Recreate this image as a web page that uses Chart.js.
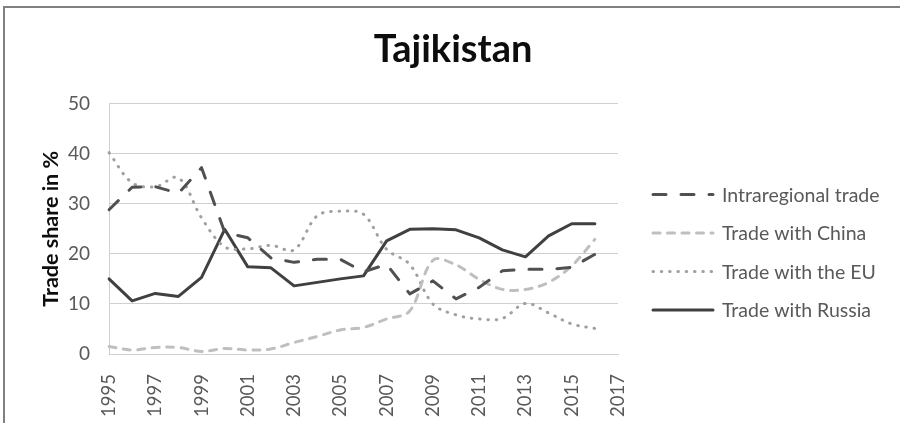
<!DOCTYPE html>
<html>
<head>
<meta charset="utf-8">
<script src="https://cdn.jsdelivr.net/npm/chart.js@4/dist/chart.umd.min.js"></script>
<style>
  html, body { margin: 0; padding: 0; background: #fff; width: 900px; height: 423px; overflow: hidden; }
  #frame { position: absolute; left: 3px; top: 6px; width: 1000px; height: 1000px; border-left: 2px solid #808080; border-top: 2px solid #808080; box-sizing: border-box; }
  canvas { position: absolute; left: 0; top: 0; }
</style>
</head>
<body>
<div id="frame"></div>
<canvas id="c" width="900" height="423"></canvas>
<script>
const chartTitle = "Tajikistan";
const yAxisTitle = "Trade share in %";
const years = ["1995","1996","1997","1998","1999","2000","2001","2002","2003","2004","2005","2006","2007","2008","2009","2010","2011","2012","2013","2014","2015","2016","2017"];
const seriesNames = ["Intraregional trade", "Trade with China", "Trade with the EU", "Trade with Russia"];
const intraregional = [28.8, 33.3, 33.4, 32.1, 37.2, 24.3, 23.2, 19.2, 18.3, 18.9, 18.9, 16.4, 17.9, 12.0, 14.6, 11.0, 13.3, 16.6, 16.9, 16.9, 17.3, 19.9, null];
const china = [1.5, 0.8, 1.3, 1.3, 0.5, 1.1, 0.8, 1.0, 2.3, 3.5, 4.8, 5.3, 7.0, 8.6, 18.7, 17.8, 14.9, 12.9, 12.9, 14.3, 17.6, 22.9, null];
const eu = [40.2, 34.2, 33.4, 35.2, 27.2, 21.4, 21.0, 21.7, 20.8, 27.6, 28.5, 27.9, 20.9, 17.9, 10.0, 7.8, 7.0, 7.1, 10.1, 8.2, 6.0, 5.1, null];
const russia = [15.0, 10.6, 12.1, 11.5, 15.3, 24.9, 17.4, 17.2, 13.6, 14.3, 15.0, 15.6, 22.6, 24.9, 25.0, 24.8, 23.2, 20.8, 19.4, 23.6, 26.0, 26.0, null];
const yTicks = [0, 10, 20, 30, 40, 50];

const FONT = "Lato, 'Liberation Sans', sans-serif";

const legendPlugin = {
  id: 'customLegend',
  afterDraw(chart) {
    const ctx = chart.ctx;
    const ca = chart.chartArea;
    const x0 = ca.right + 35;
    const lineLen = 60;
    const gap = 38.5;
    const n = chart.data.datasets.length;
    const cy = (ca.top + ca.bottom) / 2 + 23.5;
    chart.data.datasets.forEach((ds, i) => {
      const y = cy + (i - (n - 1) / 2) * gap;
      ctx.save();
      ctx.strokeStyle = ds.borderColor;
      ctx.lineWidth = ds.borderWidth;
      ctx.lineCap = ds.borderCapStyle || 'butt';
      ctx.setLineDash(ds.borderDash || []);
      ctx.beginPath();
      ctx.moveTo(x0, y);
      ctx.lineTo(x0 + lineLen, y);
      ctx.stroke();
      ctx.setLineDash([]);
      ctx.fillStyle = '#595959';
      ctx.font = "19.5px " + FONT;
      ctx.textBaseline = 'middle';
      ctx.textAlign = 'left';
      ctx.fillText(ds.label, x0 + lineLen + 9, y + 1);
      ctx.restore();
    });
  }
};

const common = { pointRadius: 0, pointHoverRadius: 0, fill: false, spanGaps: false, borderJoinStyle: 'round' };

new Chart(document.getElementById('c'), {
  type: 'line',
  data: {
    labels: years,
    datasets: [
      Object.assign({}, common, { label: seriesNames[0], data: intraregional, borderColor: '#505050', borderWidth: 3, borderDash: [13, 15], borderCapStyle: 'round', tension: 0 }),
      Object.assign({}, common, { label: seriesNames[1], data: china, borderColor: '#bfbfbf', borderWidth: 3, borderDash: [7, 7.5], borderCapStyle: 'round', tension: 0.35 }),
      Object.assign({}, common, { label: seriesNames[2], data: eu, borderColor: '#a0a0a0', borderWidth: 3, borderDash: [0.5, 7.8], borderCapStyle: 'round', tension: 0.35 }),
      Object.assign({}, common, { label: seriesNames[3], data: russia, borderColor: '#404040', borderWidth: 3, borderCapStyle: 'round', tension: 0 })
    ]
  },
  options: {
    responsive: false,
    animation: false,
    devicePixelRatio: 1,
    layout: { padding: { left: 6, right: 0, top: 0, bottom: 0 } },
    plugins: {
      legend: { display: false },
      tooltip: { enabled: false },
      title: {
        display: true,
        text: chartTitle,
        color: '#0d0d0d',
        font: { family: FONT, size: 38, weight: 'bold', lineHeight: 1.2 },
        padding: { top: 27, bottom: 31 }
      }
    },
    scales: {
      x: {
        grid: { display: false, drawTicks: false },
        border: { display: true, color: '#d0d0d0', width: 1 },
        ticks: {
          autoSkip: false,
          maxRotation: 90,
          minRotation: 90,
          padding: 20,
          color: '#595959',
          font: { family: FONT, size: 18.5 },
          callback: function(v, i) { return i % 2 === 0 ? years[i] : ''; }
        },
        afterFit: (s) => { s.height = 69; }
      },
      y: {
        min: 0,
        max: 50,
        afterBuildTicks: (s) => { s.ticks = yTicks.map(v => ({ value: v })); },
        grid: { color: '#d0d0d0', drawTicks: false, lineWidth: 1 },
        border: { display: true, color: '#d0d0d0', width: 1 },
        ticks: { padding: 19, color: '#595959', font: { family: FONT, size: 19 } },
        title: {
          display: true,
          text: yAxisTitle,
          color: '#0d0d0d',
          font: { family: FONT, size: 21.5, weight: 'bold', lineHeight: 1.2 },
          padding: { top: 32, bottom: 0 }
        },
        afterFit: (s) => { s.width = 103; }
      },
      yRightSpace: {
        position: 'right',
        display: true,
        grid: { display: false, drawTicks: false },
        border: { display: false },
        ticks: { display: false },
        afterFit: (s) => { s.width = 282; }
      }
    }
  },
  plugins: [legendPlugin]
});
</script>
</body>
</html>
